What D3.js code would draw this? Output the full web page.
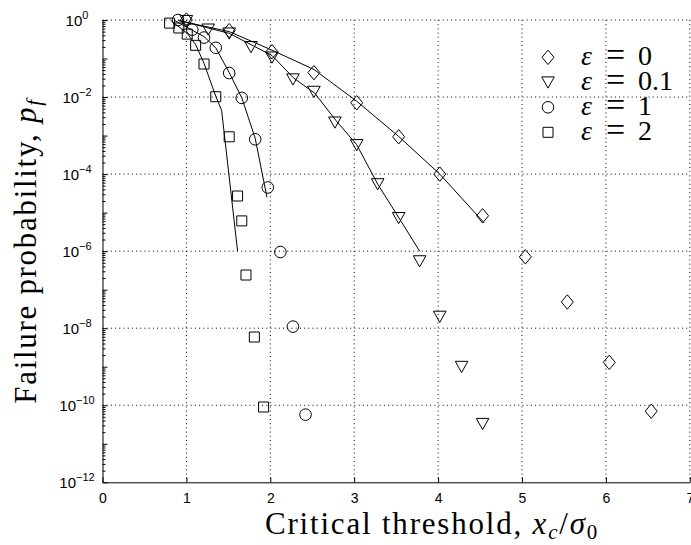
<!DOCTYPE html>
<html>
<head>
<meta charset="utf-8">
<script src="https://cdn.jsdelivr.net/npm/d3@7"></script>
<style>
  body { margin: 0; background: #fff; }
  svg { display: block; }
</style>
</head>
<body>
<svg id="chart" width="691" height="545"></svg>
<script>
// markers (simulated values)
var eps0X  = [1.0, 1.51, 2.02, 2.52, 3.03, 3.53, 4.02, 4.53, 5.04, 5.54, 6.04, 6.54];
var eps0P  = [1.0, 0.53, 0.15, 0.043, 0.0071, 9.3e-4, 1.0e-4, 8.3e-6, 7.1e-7, 4.8e-8, 1.3e-9, 7.0e-11];
var eps01X = [1.0, 1.26, 1.51, 1.77, 2.02, 2.27, 2.52, 2.77, 3.03, 3.28, 3.53, 3.78, 4.02, 4.28, 4.53];
var eps01P = [0.95, 0.57, 0.45, 0.20, 0.107, 0.029, 0.0138, 0.0022, 5.7e-4, 5.5e-5, 7.3e-6, 5.5e-7, 2.0e-8, 1.0e-9, 3.3e-11];
var eps1X  = [0.90, 1.07, 1.21, 1.35, 1.51, 1.66, 1.82, 1.97, 2.12, 2.27, 2.42];
var eps1P  = [1.0, 0.56, 0.35, 0.19, 0.042, 0.0095, 8.0e-4, 4.5e-5, 9.5e-7, 1.1e-8, 5.7e-11];
var eps2X  = [0.80, 0.91, 1.01, 1.11, 1.21, 1.35, 1.51, 1.61, 1.66, 1.71, 1.81, 1.92];
var eps2P  = [0.83, 0.62, 0.43, 0.22, 0.072, 0.0102, 9.3e-4, 2.7e-5, 6.1e-6, 2.4e-7, 5.9e-9, 9.0e-11];

// solid curves
var line0X  = [0.90, 1.51, 2.02, 2.52, 3.03, 3.53, 4.02, 4.55];
var line0P  = [0.97, 0.50, 0.165, 0.052, 0.0078, 9.5e-4, 1.0e-4, 5.4e-6];
var line01X = [0.92, 1.51, 2.02, 2.28, 2.53, 2.78, 3.03, 3.28, 3.53, 3.78];
var line01P = [0.97, 0.45, 0.12, 0.031, 0.0126, 0.0025, 5.8e-4, 5.5e-5, 7.5e-6, 1.0e-6];
var line1X  = [0.86, 1.21, 1.35, 1.51, 1.66, 1.82, 1.96];
var line1P  = [0.97, 0.37, 0.19, 0.043, 0.0096, 8.5e-4, 2.5e-5];
var line2X  = [0.82, 1.01, 1.11, 1.21, 1.35, 1.42, 1.61];
var line2P  = [0.95, 0.45, 0.23, 0.075, 0.0105, 0.0045, 1.0e-6];

var legendLabels = ["0", "0.1", "1", "2"];
var xTicks = [0, 1, 2, 3, 4, 5, 6, 7];
var yExponents = [0, -2, -4, -6, -8, -10, -12];

var svg = d3.select("#chart");
svg.append("rect").attr("width", 691).attr("height", 545).attr("fill", "#fff");

var plotLeft = 102.5, plotRight = 689.8, plotTop = 20, plotBottom = 482.3;
var x = d3.scaleLinear().domain([0, 7]).range([plotLeft, plotRight]);
var y = d3.scaleLog().domain([1e-12, 1]).range([plotBottom, plotTop]);

// dotted grid
var grid = svg.append("g").attr("stroke", "#000").attr("stroke-width", 1)
    .attr("stroke-dasharray", "1,3.2").attr("fill", "none");
xTicks.slice(1).forEach(function (t) {
    grid.append("line").attr("x1", x(t)).attr("x2", x(t)).attr("y1", plotTop).attr("y2", plotBottom);
});
yExponents.slice(0, -1).forEach(function (e) {
    grid.append("line").attr("x1", plotLeft).attr("x2", plotRight)
        .attr("y1", y(Math.pow(10, e))).attr("y2", y(Math.pow(10, e)));
});

// series
var series = [
    { xs: eps0X,  ps: eps0P,  lx: line0X,  lp: line0P,  shape: "diamond" },
    { xs: eps01X, ps: eps01P, lx: line01X, lp: line01P, shape: "triangle" },
    { xs: eps1X,  ps: eps1P,  lx: line1X,  lp: line1P,  shape: "circle" },
    { xs: eps2X,  ps: eps2P,  lx: line2X,  lp: line2P,  shape: "square" }
];

var shapePath = {
    diamond:  "M0,-7.2L6,0L0,7.2L-6,0Z",
    triangle: "M-6.3,-5.4L6.3,-5.4L0,5.8Z",
    circle:   "M5.8,0A5.8,5.8 0 1,1 -5.8,0A5.8,5.8 0 1,1 5.8,0Z",
    square:   "M-5,-5L5,-5L5,5L-5,5Z"
};

var line = d3.line().x(function (d) { return x(d[0]); }).y(function (d) { return y(d[1]); });

series.forEach(function (s) {
    svg.append("path")
        .datum(d3.zip(s.lx, s.lp))
        .attr("d", line)
        .attr("fill", "none").attr("stroke", "#000").attr("stroke-width", 1);
});

series.forEach(function (s) {
    svg.append("g").selectAll("path")
        .data(d3.zip(s.xs, s.ps))
        .join("path")
        .attr("transform", function (d) { return "translate(" + x(d[0]) + "," + y(d[1]) + ")"; })
        .attr("d", shapePath[s.shape])
        .attr("fill", "none").attr("stroke", "#000").attr("stroke-width", 1);
});

// axes
var xAxis = d3.axisBottom(x).tickValues(xTicks).tickFormat(d3.format("d"))
    .tickSizeInner(-5).tickSizeOuter(0).tickPadding(11);
var gx = svg.append("g").attr("transform", "translate(0," + plotBottom + ")").call(xAxis);
gx.selectAll("text").attr("font-family", "Liberation Sans, Arial, sans-serif").attr("font-size", 14).attr("fill", "#000");
gx.select(".domain").attr("stroke", "#000");

var decades = d3.range(0, -13, -1).map(function (e) { return Math.pow(10, e); });
var minors = [];
d3.range(-12, 0).forEach(function (e) {
    for (var k = 2; k <= 9; k++) minors.push(k * Math.pow(10, e));
});
var yAxis = d3.axisLeft(y).tickValues(decades).tickSizeInner(-5).tickSizeOuter(0).tickFormat("");
var gy = svg.append("g").attr("transform", "translate(" + plotLeft + ",0)").call(yAxis);
gy.select(".domain").attr("stroke", "#000");
var yMinor = d3.axisLeft(y).tickValues(minors).tickSizeInner(-3).tickSizeOuter(0).tickFormat("");
var gym = svg.append("g").attr("transform", "translate(" + plotLeft + ",0)").call(yMinor);
gym.select(".domain").remove();
gym.selectAll("line").attr("stroke", "#000");

var ylab = svg.append("g").attr("font-family", "Liberation Sans, Arial, sans-serif").attr("fill", "#000");
yExponents.forEach(function (e) {
    var t = ylab.append("text")
        .attr("x", 77).attr("y", y(Math.pow(10, e)) + 6)
        .attr("text-anchor", "middle").attr("font-size", 15);
    t.append("tspan").text("10");
    t.append("tspan").attr("dy", -7).attr("font-size", 11)
        .text(e === 0 ? "0" : "\u2212" + Math.abs(e));
});

// legend
var serif = "Liberation Serif, Times New Roman, serif";
var leg = svg.append("g");
series.forEach(function (s, i) {
    var cy = 57.3 + i * 25;
    leg.append("path").attr("transform", "translate(548," + cy + ")")
        .attr("d", shapePath[s.shape])
        .attr("fill", "none").attr("stroke", "#000").attr("stroke-width", 1);
    var t = leg.append("text").attr("y", cy + 8).attr("font-family", serif)
        .attr("font-size", 28).attr("fill", "#000");
    t.append("tspan").attr("x", 581).attr("font-style", "italic").text("\u03b5");
    t.append("tspan").attr("x", 606).attr("font-size", 34).attr("dy", 1).text("=");
    t.append("tspan").attr("x", 638).attr("dy", -1).text(legendLabels[i]);
});

// axis titles
var xt = svg.append("text").attr("x", 265).attr("y", 534)
    .attr("font-family", serif).attr("font-size", 31).attr("letter-spacing", 1.8).attr("fill", "#000");
xt.append("tspan").text("Critical threshold, ");
xt.append("tspan").attr("font-style", "italic").text("x");
xt.append("tspan").attr("font-size", 21).attr("font-style", "italic").attr("dy", 5).text("c");
xt.append("tspan").attr("dy", -5).text("/");
xt.append("tspan").attr("font-style", "italic").text("\u03c3");
xt.append("tspan").attr("font-size", 21).attr("dy", 5).text("0");

var yt = svg.append("text").attr("transform", "translate(36,251) rotate(-90)")
    .attr("text-anchor", "middle")
    .attr("font-family", serif).attr("font-size", 31).attr("letter-spacing", 1.7).attr("fill", "#000");
yt.append("tspan").text("Failure probability, ");
yt.append("tspan").attr("font-style", "italic").text("p");
yt.append("tspan").attr("font-size", 21).attr("font-style", "italic").attr("dy", 5).text("f");
</script>
</body>
</html>
